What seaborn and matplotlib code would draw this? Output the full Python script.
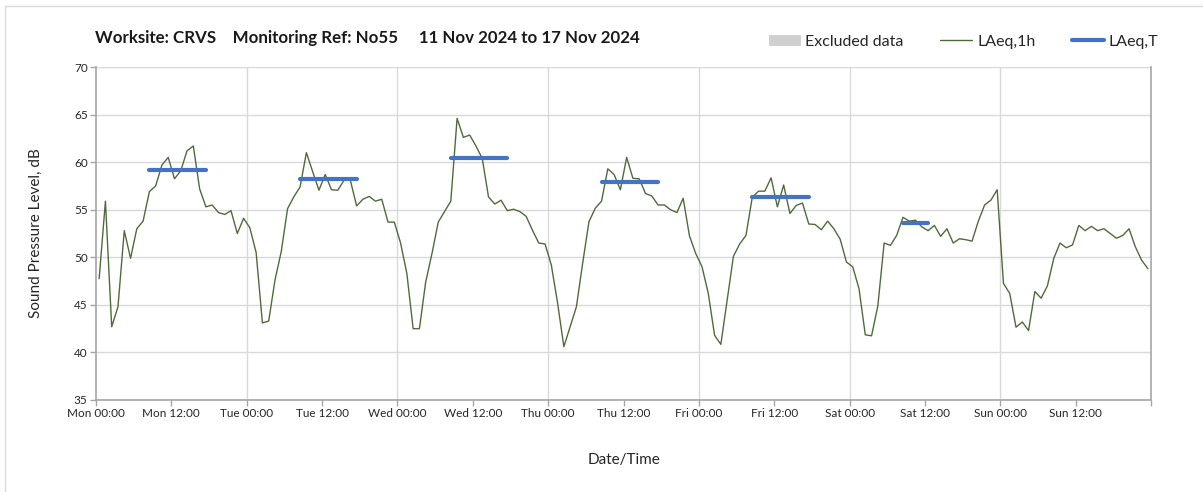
import matplotlib
matplotlib.use("Agg")
import matplotlib.pyplot as plt
from matplotlib.lines import Line2D
from matplotlib.patches import Patch
import seaborn as sns
import pandas as pd
import numpy as np

# ---------------- data ----------------
title_text = "Worksite: CRVS    Monitoring Ref: No55     11 Nov 2024 to 17 Nov 2024"
day_names = ["Mon", "Tue", "Wed", "Thu", "Fri", "Sat", "Sun"]

# hourly LAeq,1h values, hour 0 = Mon 00:00-01:00
laeq_1h = [
    47.75, 55.9, 42.7, 44.8, 52.8, 49.9, 53.0, 53.8, 56.9, 57.5, 59.7, 60.5,
    58.25, 59.1, 61.2, 61.7, 57.2, 55.3, 55.5, 54.7, 54.5, 54.9, 52.5, 54.1,
    53.1, 50.5, 43.1, 43.3, 47.6, 50.6, 55.1, 56.35, 57.4, 61.0, 59.0, 57.05,
    58.7, 57.1, 57.05, 58.1, 58.1, 55.4, 56.1, 56.4, 55.9, 56.1, 53.7, 53.7,
    51.5, 48.3, 42.5, 42.5, 47.4, 50.4, 53.7, 54.8, 55.9, 64.6, 62.6, 62.85,
    61.7, 60.4, 56.35, 55.6, 56.0, 54.9, 55.05, 54.8, 54.3, 52.85, 51.5, 51.4,
    49.2, 45.2, 40.6, 42.7, 44.8, 49.4, 53.75, 55.15, 55.9, 59.3, 58.7, 57.1,
    60.5, 58.3, 58.25, 56.7, 56.45, 55.5, 55.5, 55.0, 54.7, 56.2, 52.25, 50.4,
    49.0, 46.2, 41.8, 40.85, 45.5, 50.1, 51.4, 52.3, 56.3, 56.95, 56.95, 58.35,
    55.3, 57.6, 54.6, 55.45, 55.7, 53.5, 53.45, 52.9, 53.8, 53.0, 51.9, 49.5,
    49.0, 46.7, 41.85, 41.75, 44.9, 51.5, 51.25, 52.3, 54.2, 53.8, 53.9, 53.2,
    52.8, 53.35, 52.2, 53.0, 51.5, 51.95, 51.85, 51.7, 53.8, 55.5, 56.0, 57.1,
    47.25, 46.2, 42.65, 43.2, 42.3, 46.4, 45.7, 47.0, 49.85, 51.5, 51.0, 51.3,
    53.35, 52.8, 53.25, 52.8, 53.0, 52.5, 52.0, 52.3, 53.0, 51.1, 49.7, 48.8,
]

# LAeq,T over working hours
period_day = [0, 1, 2, 3, 4, 5]
period_start_hour = [8, 8, 8, 8, 8, 8]
period_end_hour = [18, 18, 18, 18, 18, 13]
laeq_t = [59.15, 58.2, 60.4, 57.9, 56.3, 53.6]

y_ticks = [35, 40, 45, 50, 55, 60, 65, 70]

# ---------------- figure ----------------
sns.set_theme(style="white")
plt.rcParams["font.family"] = ["Lato", "DejaVu Sans"]

fig = plt.figure(figsize=(12.03, 4.92), dpi=100)
ax = fig.add_axes([0.0798, 0.187, 0.877, 0.6768])

green = "#4f6b3c"
blue = "#4472c4"
axis_gray = "#a6a6a6"
grid_gray = "#d9d9d9"

n_hours = len(laeq_1h)
df = pd.DataFrame({"t": np.arange(n_hours) + 0.5, "v": laeq_1h})
sns.lineplot(data=df, x="t", y="v", ax=ax, color=green, linewidth=1.0, zorder=3)

for d, s, e, v in zip(period_day, period_start_hour, period_end_hour, laeq_t):
    pdf = pd.DataFrame({"t": [d * 24 + s + 0.5, d * 24 + e - 0.5], "v": [v, v]})
    sns.lineplot(data=pdf, x="t", y="v", ax=ax, color=blue, linewidth=3.0,
                 zorder=4, solid_capstyle="round")

ax.set_xlim(0, n_hours)
ax.set_ylim(y_ticks[0], y_ticks[-1])
ax.set_yticks(y_ticks)
ax.set_yticklabels([str(v) for v in y_ticks])

tick_pos = list(range(0, n_hours + 1, 12))
tick_labels = []
for p in tick_pos:
    if p < n_hours:
        tick_labels.append(f"{day_names[p // 24]} {p % 24:02d}:00")
    else:
        tick_labels.append("")
ax.set_xticks(tick_pos)
ax.set_xticklabels(tick_labels)

# horizontal grid
ax.yaxis.grid(True, color=grid_gray, linewidth=1.0)
ax.xaxis.grid(False)
for d in range(1, len(day_names)):
    ax.axvline(d * 24, color=grid_gray, linewidth=1.0, zorder=1)

for side in ["left", "bottom", "right"]:
    ax.spines[side].set_visible(True)
    ax.spines[side].set_color(axis_gray)
    ax.spines[side].set_linewidth(1.2)
ax.spines["top"].set_visible(False)

ax.tick_params(axis="both", which="major", direction="out", length=4,
               width=1.0, color=axis_gray, labelsize=8.5, labelcolor="#262626",
               left=True, bottom=True, pad=2)

ax.set_xlabel("Date/Time", fontsize=11, color="#262626", labelpad=24)
ax.set_ylabel("Sound Pressure Level, dB", fontsize=11, color="#262626", labelpad=22)

fig.text(0.079, 0.922, title_text, fontsize=12.2, fontweight="bold",
         color="#1a1a1a", ha="left", va="center")

handles = [
    Patch(facecolor="#d0d0d0", edgecolor="none"),
    Line2D([0], [0], color=green, linewidth=1.0),
    Line2D([0], [0], color=blue, linewidth=3.0),
]
labels = ["Excluded data", "LAeq,1h", "LAeq,T"]
fig.legend(handles, labels, loc="center right", bbox_to_anchor=(0.975, 0.915),
           ncol=3, frameon=False, fontsize=11.5, handlelength=2.0,
           handletextpad=0.3, columnspacing=2.3, labelcolor="#262626")

# outer border (top and left)
fig.add_artist(Line2D([0.0045, 1.0], [0.988, 0.988], transform=fig.transFigure,
                      color="#d9d9d9", linewidth=1.0))
fig.add_artist(Line2D([0.0045, 0.0045], [0.0, 0.988], transform=fig.transFigure,
                      color="#d9d9d9", linewidth=1.0))

fig.savefig("out.png", dpi=100)
